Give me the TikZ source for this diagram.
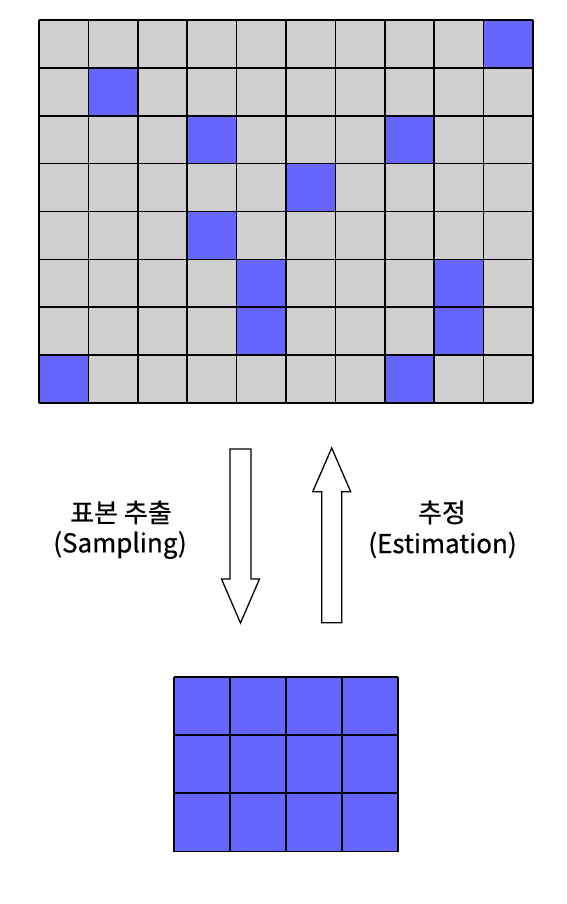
\documentclass[tikz,border=0pt]{standalone}
\usepackage{fontspec}
\newfontfamily\kr[FakeBold=0.6]{Noto Sans CJK KR}
\definecolor{cellgray}{HTML}{D0CECF}
\definecolor{cellblue}{HTML}{6666FF}
\begin{document}
\begin{tikzpicture}[x=1pt,y=-1pt,
  gridline/.style={line width=1.7pt, draw=black},
  blockarrow/.style={draw=black, line width=1.3pt, fill=white, line join=miter},
  lbl/.style={font=\kr\fontsize{26}{30}\selectfont, inner sep=0pt}]
\useasboundingbox (0,0) rectangle (567,904);
% top grid (population)
\fill[cellgray] (39,20) rectangle (533,403);
\foreach \c/\r in {9/0,1/1,3/2,7/2,5/3,3/4,4/5,8/5,4/6,8/6,0/7,7/7}
  \fill[cellblue] ({39+\c*49.4},{20+\r*47.875}) rectangle ++(49.4,47.875);
\foreach \i in {0,...,10}
  \draw[gridline] ({39+\i*49.4},20) -- ({39+\i*49.4},403);
\foreach \j in {0,...,8}
  \draw[gridline] (39,{20+\j*47.875}) -- (533,{20+\j*47.875});
% bottom grid (sample)
\fill[cellblue] (174,677) rectangle (398,851.5);
\foreach \i in {0,...,4}
  \draw[gridline] ({174+\i*56},677) -- ({174+\i*56},851.5);
\foreach \j in {0,...,3}
  \draw[gridline] (174,{677+\j*58.17}) -- (398,{677+\j*58.17});
% block arrows
\draw[blockarrow] (230,449) -- (251,449) -- (251,579) -- (259.5,579) -- (240.5,623)
  -- (221.5,579) -- (230,579) -- cycle;
\draw[blockarrow] (321.7,622.7) -- (341.7,622.7) -- (341.7,491.7) -- (350.7,491.7)
  -- (331.7,448) -- (312.7,491.7) -- (321.7,491.7) -- cycle;
% labels
\node[lbl] (s1) at (121,512.5) {표본 추출};
\node[lbl] (s2) at (120,545) {(Sampling)};
\node[lbl] (e1) at (442,512.5) {추정};
\node[lbl] (e2) at (442.5,545) {(Estimation)};
\end{tikzpicture}
\end{document}
